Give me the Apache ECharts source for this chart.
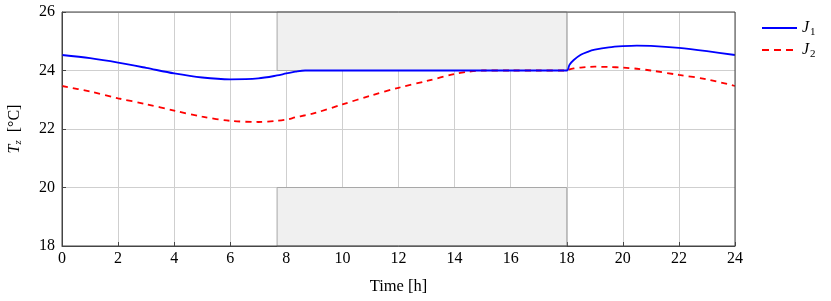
<!DOCTYPE html>
<html>
<head>
<meta charset="utf-8">
<script src="https://cdn.jsdelivr.net/npm/echarts@6/dist/echarts.min.js"></script>
<style>
html,body{margin:0;padding:0;background:#fff;}
#chart{width:831px;height:301px;}
</style>
</head>
<body>
<div id="chart"></div>
<script>
var hours = [0,1,2,3,4,5,6,7,7.67,8,8.33,8.67,9,10,11,12,13,14,14.5,15,16,17,18,18.1,18.25,18.5,18.75,19,19.5,20,20.5,21,22,23,24];
var j1 = [24.53,24.42,24.27,24.09,23.90,23.76,23.70,23.73,23.83,23.90,23.96,24.00,24.00,24.00,24.00,24.00,24.00,24.00,24.00,24.00,24.00,24.00,24.00,24.20,24.36,24.54,24.64,24.71,24.79,24.83,24.85,24.84,24.77,24.66,24.53];
var j2 = [23.47,23.28,23.05,22.85,22.63,22.42,22.28,22.24,22.28,22.32,22.40,22.47,22.54,22.84,23.14,23.41,23.64,23.88,23.96,24.00,24.00,24.00,24.00,24.04,24.07,24.10,24.12,24.13,24.12,24.10,24.06,24.00,23.85,23.70,23.47];
var seriesNames = ['J1','J2'];
var xTicks = [0,2,4,6,8,10,12,14,16,18,20,22,24];
var yTicks = [18,20,22,24,26];
var bandStart = 7.67, bandEnd = 18;
var upperBand = [24, 26];
var lowerBand = [18, 20];

function pairs(xs, ys){ return xs.map(function(x,i){ return [x, ys[i]]; }); }

var font = 'Liberation Serif';
var solidIcon = 'path://M0,0h35v1.8h-35z';
var dashIcon = 'path://M0,0h7v1.8h-7z M12,0h7v1.8h-7z M24,0h7v1.8h-7z M35,0h0.01v1.8h-0.01z';
var chart = echarts.init(document.getElementById('chart'), null, {renderer:'canvas'});
chart.setOption({
  animation:false,
  backgroundColor:'#fff',
  grid:{left:62, right:96, top:12, bottom:55, containLabel:false, outerBoundsMode:'none'},
  legend:{
    orient:'vertical', left:757, top:13, itemWidth:35, itemHeight:2, itemGap:2,
    data:[{name:seriesNames[0], icon:solidIcon},{name:seriesNames[1], icon:dashIcon}],
    formatter:function(n){ return '{i|J}{s|' + n.slice(1) + '}'; },
    textStyle:{fontFamily:font, color:'#000', rich:{
      i:{fontFamily:font, fontStyle:'italic', fontSize:16, lineHeight:18},
      s:{fontFamily:font, fontSize:11, lineHeight:18, padding:[9,0,0,1]}
    }}
  },
  xAxis:{
    type:'value', min:0, max:24, interval:2,
    name:'Time [h]', nameLocation:'middle', nameGap:32,
    nameTextStyle:{fontFamily:font, fontSize:16.5, color:'#000'},
    axisLine:{lineStyle:{color:'#444', width:1}},
    axisTick:{inside:true, length:4, lineStyle:{color:'#444'}},
    axisLabel:{fontFamily:font, fontSize:16, color:'#000', margin:5},
    splitLine:{show:true, lineStyle:{color:'#cfcfcf', width:1}}
  },
  yAxis:{
    type:'value', min:18, max:26, interval:2,
    name:'{i|T}{s|z}  [°C]', nameLocation:'middle', nameGap:38, nameRotate:90,
    nameTextStyle:{fontFamily:font, fontSize:16, color:'#000', rich:{
      i:{fontFamily:font, fontStyle:'italic', fontSize:16},
      s:{fontFamily:font, fontStyle:'italic', fontSize:11, padding:[8,0,0,0]}
    }},
    axisLine:{show:true, lineStyle:{color:'#444', width:1}},
    axisTick:{show:true, inside:true, length:4, lineStyle:{color:'#444'}},
    axisLabel:{fontFamily:font, fontSize:16, color:'#000', margin:7},
    splitLine:{show:true, lineStyle:{color:'#cfcfcf', width:1}}
  },
  series:[
    {
      name:'bands', type:'line', data:[], silent:true,
      markArea:{silent:true,
        itemStyle:{color:'#f0f0f0', borderColor:'#a8a8a8', borderWidth:1},
        data:[
          [{coord:[bandStart, upperBand[0]]},{coord:[bandEnd, upperBand[1]]}],
          [{coord:[bandStart, lowerBand[0]]},{coord:[bandEnd, lowerBand[1]]}]
        ]}
    },
    {
      name:'J2', type:'line', data:pairs(hours,j2), showSymbol:false, symbol:'none', smooth:0.3,
      lineStyle:{color:'#ff0000', width:1.8, type:[6,5]}, itemStyle:{color:'#ff0000'}, z:3
    },
    {
      name:'J1', type:'line', data:pairs(hours,j1), showSymbol:false, symbol:'none', smooth:0.3,
      lineStyle:{color:'#0000ff', width:1.8}, itemStyle:{color:'#0000ff'}, z:4
    }
  ],
  graphic:[
    {type:'rect', shape:{x:62, y:12, width:673, height:234}, style:{fill:'none', stroke:'#444', lineWidth:1}, z:10, silent:true}
  ]
});
</script>
</body>
</html>
